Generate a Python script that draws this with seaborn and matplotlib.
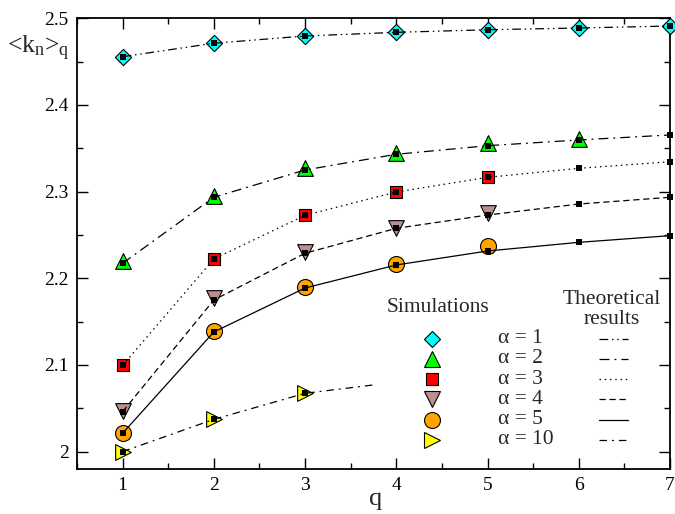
import numpy as np
import pandas as pd
import matplotlib
matplotlib.use("Agg")
import matplotlib.pyplot as plt
import seaborn as sns
from matplotlib.ticker import MultipleLocator, FuncFormatter

# ---------------- data ----------------
alpha_labels = ["α = 1", "α = 2", "α = 3", "α = 4", "α = 5", "α = 10"]

q_values = [1, 2, 3, 4, 5, 6, 7]

# simulations
sim_a1 = [2.4557, 2.4712, 2.4796, 2.4838, 2.4868, 2.4888, 2.4911]
sim_a2 = [2.2203, 2.2953, 2.3269, 2.3446, 2.3565, 2.3604]
sim_a3 = [2.0996, 2.2223, 2.2727, 2.2996, 2.3165]
sim_a4 = [2.0470, 2.1770, 2.2305, 2.2585, 2.2750]
sim_a5 = [2.0215, 2.1390, 2.1895, 2.2160, 2.2375]
sim_a10 = [2.0000, 2.0373, 2.0673]

# theoretical results
th_a1 = [2.4557, 2.4712, 2.4796, 2.4838, 2.4868, 2.4888, 2.4911]
th_a2 = [2.2173, 2.2935, 2.3250, 2.3431, 2.3530, 2.3596, 2.3654]
th_a3 = [2.0996, 2.2223, 2.2727, 2.2996, 2.3165, 2.3269, 2.3345]
th_a4 = [2.0461, 2.1750, 2.2289, 2.2577, 2.2730, 2.2857, 2.2935]
th_a5 = [2.0212, 2.1381, 2.1888, 2.2154, 2.2315, 2.2415, 2.2492]
q_th_a10 = [1, 2, 3, 3.75]
th_a10 = [2.0000, 2.0373, 2.0673, 2.0770]

sims = [sim_a1, sim_a2, sim_a3, sim_a4, sim_a5, sim_a10]
theos = [th_a1, th_a2, th_a3, th_a4, th_a5, th_a10]
theo_q = [q_values, q_values, q_values, q_values, q_values, q_th_a10]

# ---------------- styles ----------------
colors = ["#00FFFF", "#00FF00", "#FF0000", "#BC8F8F", "#FFA500", "#FFFF00"]
markers = ["D", "^", "s", "v", "o", ">"]
msizes = [8.3, 11.3, 8.8, 11.3, 11.5, 11.3]
linestyles = [
    (0, (7, 3, 1.2, 3, 1.2, 3)),
    (0, (8, 4, 1.5, 4)),
    (0, (1.2, 3)),
    (0, (5, 3)),
    "-",
    (0, (6, 4, 1.5, 4)),
]

sns.set_style("ticks")
plt.rcParams["font.family"] = ["Liberation Serif", "DejaVu Serif"]
plt.rcParams["mathtext.fontset"] = "custom"
plt.rcParams["mathtext.rm"] = "Liberation Serif"
plt.rcParams["mathtext.it"] = "Liberation Serif"

fig = plt.figure(figsize=(6.75, 5.14), dpi=100)
ax_l, ax_r, ax_t, ax_b = 77, 670, 18.3, 469
ax = fig.add_axes([ax_l / 675, (514 - ax_b) / 514, (ax_r - ax_l) / 675, (ax_b - ax_t) / 514])

for i in range(6):
    qs = q_values[: len(sims[i])]
    df_s = pd.DataFrame({"q": qs, "k": sims[i]})
    sns.scatterplot(data=df_s, x="q", y="k", ax=ax, marker=markers[i],
                    s=msizes[i] ** 2, color=colors[i], edgecolor="black",
                    linewidth=0.8, zorder=3, clip_on=False, legend=False)

for i in range(6):
    df_t = pd.DataFrame({"q": theo_q[i], "k": theos[i]})
    n_int = sum(1 for v in theo_q[i] if float(v).is_integer())
    sns.lineplot(data=df_t, x="q", y="k", ax=ax, color="black", linewidth=0.9,
                 linestyle=linestyles[i], marker="s", markersize=5,
                 markevery=list(range(n_int)), markeredgewidth=0,
                 zorder=4, clip_on=False, legend=False)

ax.set_xlim(0.5, 7)
ax.set_ylim(2.5 - (ax_b - ax_t) / 866.7, 2.5)
ax.xaxis.set_major_locator(MultipleLocator(1))
ax.xaxis.set_minor_locator(MultipleLocator(0.5))
ax.yaxis.set_major_locator(MultipleLocator(0.1))
ax.yaxis.set_minor_locator(MultipleLocator(0.05))
ax.yaxis.set_major_formatter(FuncFormatter(lambda v, p: f"{round(v, 2):g}"))
ax.tick_params(which="both", direction="in", top=True, right=True, width=1.0,
               labelsize=14, colors="black")
ax.tick_params(which="major", length=8, pad=6)
ax.tick_params(which="minor", length=4.3)
for sp in ax.spines.values():
    sp.set_linewidth(1.3)
    sp.set_color("black")
    sp.set_visible(True)

ax.set_xlabel("")
ax.set_ylabel("")
fig.text(376 / 675, 1 - 505 / 514, "q", fontsize=19, ha="center", va="baseline")
fig.text(7 / 675, 1 - 53 / 514, r"<k$_\mathrm{n}$>$_\mathrm{q}$", fontsize=18.5,
         ha="left", va="baseline")

# ---------------- legend (manual layout) ----------------
def fx(px):
    return (px - ax_l) / (ax_r - ax_l)

def fy(py):
    return (ax_b - py) / (ax_b - ax_t)

ax.text(fx(438), fy(308), "Simulations", transform=ax.transAxes, fontsize=15.5,
        ha="center", va="center")
ax.text(fx(612), fy(300), "Theoretical", transform=ax.transAxes, fontsize=15.5,
        ha="center", va="center")
ax.text(fx(612), fy(320), "results", transform=ax.transAxes, fontsize=15.5,
        ha="center", va="center")
for i in range(6):
    yy = fy(338.5 + 20.3 * i)
    ax.plot([fx(432)], [yy], transform=ax.transAxes, marker=markers[i],
            markersize=msizes[i], color=colors[i], markeredgecolor="black",
            markeredgewidth=0.8, linestyle="none", clip_on=False)
    ax.text(fx(498), yy, alpha_labels[i], transform=ax.transAxes, fontsize=15.5,
            ha="left", va="center")
    ax.plot([fx(599), fx(628)], [yy, yy], transform=ax.transAxes, color="black",
            linewidth=0.9, linestyle=linestyles[i])

fig.savefig("out.png", dpi=100)
